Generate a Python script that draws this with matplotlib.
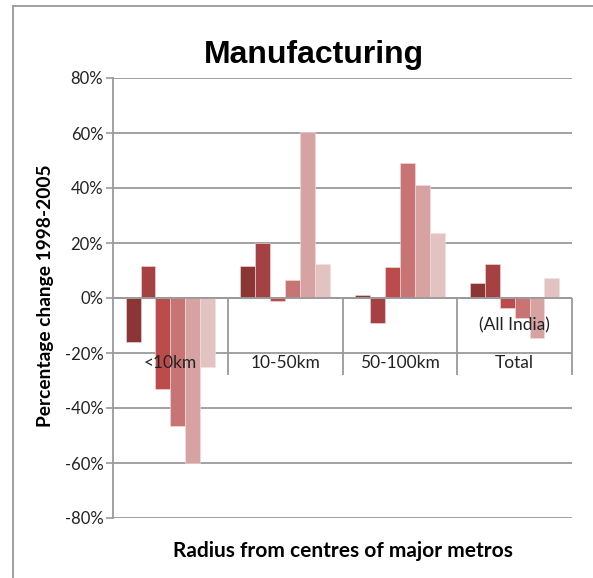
import matplotlib
matplotlib.use('Agg')
import matplotlib.pyplot as plt
from matplotlib.lines import Line2D
import numpy as np

# data (percent change 1998-2005)
categories = ['<10km', '10-50km', '50-100km', 'Total']
upper_labels = ['', '', '', '(All India)']
series = [
    [-16.0, 11.6, 1.0, 5.5],
    [11.6, 20.0, -9.0, 12.4],
    [-33.0, -1.0, 11.3, -3.6],
    [-46.5, 6.5, 49.0, -7.3],
    [-60.0, 60.4, 41.0, -14.5],
    [-25.0, 12.4, 23.6, 7.3],
]
colors = ['#8C3535', '#A54043', '#BC4C4B', '#C97474', '#D6A2A2', '#E3C3C2']
yticks = [-80, -60, -40, -20, 0, 20, 40, 60, 80]

fig = plt.figure(figsize=(5.93, 5.78), dpi=100)
ax = fig.add_axes([113/593, 1 - 518/578, (572-113)/593, (518-78)/578])

grid_c = '#9A9A9A'
x = np.arange(len(categories))
bw = 0.13
for k, vals in enumerate(series):
    ax.bar(x + (k - 2.5) * bw, vals, bw, color=colors[k],
           edgecolor='#F0E0E0', linewidth=0.4, zorder=2)

ax.set_xlim(-0.5, len(categories) - 0.5)
ax.set_ylim(-80, 80)
ax.set_yticks(yticks)
ax.set_yticklabels([f'{v}%' for v in yticks], fontfamily='Lato',
                   fontsize=12, color='#222222')
ax.yaxis.grid(True, color=grid_c, linewidth=1.3, zorder=0)
ax.set_axisbelow(True)
ax.tick_params(axis='y', length=5, width=1.2, color=grid_c, pad=2)
ax.set_xticks([])
for s in ['top', 'right', 'bottom']:
    ax.spines[s].set_visible(False)
ax.spines['left'].set_color(grid_c)
ax.spines['left'].set_linewidth(1.3)

# category axis at zero with long separating ticks
ax.axhline(0, color=grid_c, linewidth=1.3, zorder=3)
ax.vlines(np.arange(len(categories)) + 0.5, -28, 0, color=grid_c,
          linewidth=1.3, zorder=3, clip_on=False)
for i, (lab, up) in enumerate(zip(categories, upper_labels)):
    ax.text(i, -23.5, lab, ha='center', va='center', fontsize=12.5,
            family='Lato', color='#222222', zorder=4)
    if up:
        ax.text(i, -9.8, up, ha='center', va='center', fontsize=12.5,
                family='Lato', color='#222222', zorder=4)

fig.text(314/593, 1 - 63/578, 'Manufacturing', ha='center', va='baseline',
         fontsize=23, fontweight='bold', family='Liberation Sans')
fig.text(46/593, 1 - 296/578, 'Percentage change 1998-2005', rotation=90,
         ha='center', va='center', fontsize=13.8, fontweight='bold', family='Lato')
fig.text(343/593, 1 - 551/578, 'Radius from centres of major metros',
         ha='center', va='center', fontsize=15, fontweight='bold', family='Lato')

# outer chart border (left and top edges visible)
fig.add_artist(Line2D([13/593, 13/593], [0, 1 - 6/578], color=grid_c, linewidth=1.3))
fig.add_artist(Line2D([13/593, 1], [1 - 6/578, 1 - 6/578], color=grid_c, linewidth=1.3))

fig.savefig('out.png', dpi=100)
